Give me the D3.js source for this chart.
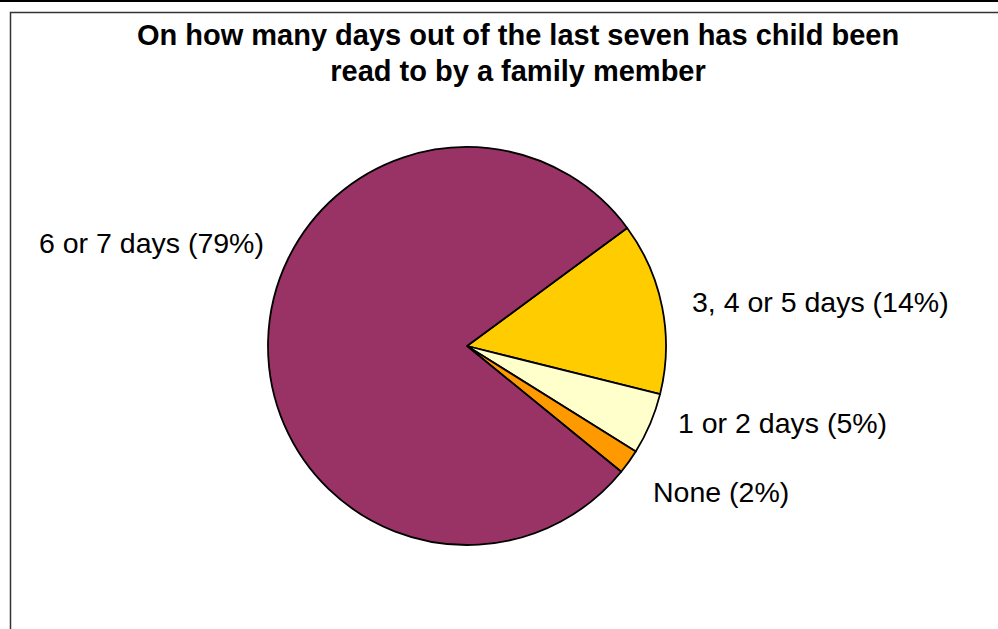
<!DOCTYPE html>
<html>
<head>
<meta charset="utf-8">
<script src="https://cdn.jsdelivr.net/npm/d3@7"></script>
<style>
  body { margin: 0; background: #fff; }
  svg { display: block; font-family: "Liberation Sans", Arial, sans-serif; }
</style>
</head>
<body>
<div class="chart"></div>
<script>
var width = 998,
  height = 629;

// data, clockwise from the first slice
var categories = ['3, 4 or 5 days', '1 or 2 days', 'None', '6 or 7 days'];
var values = [14, 5, 2, 79];
var colors = ['#FFCC00', '#FFFFCC', '#FF9900', '#993366'];
var titleLines = ['On how many days out of the last seven has child been', 'read to by a family member'];

// label anchor points (text layout only)
var labelPos = [[692, 312], [678, 433], [653, 502], [39, 253]];

var cx = 467, cy = 346, radius = 199;
var startDeg = 53.6;

var svg = d3.select('.chart')
  .append('svg')
  .attr('width', width)
  .attr('height', height);

// frame
svg.append('rect')
  .attr('x', 0).attr('y', 0)
  .attr('width', width).attr('height', 2)
  .attr('fill', '#000');

svg.append('path')
  .attr('d', 'M10.5,' + (height + 10) + 'V12.5H' + (width + 10))
  .attr('fill', 'none')
  .attr('stroke', '#333')
  .attr('stroke-width', 1.5);

// title
svg.selectAll('.title')
  .data(titleLines)
  .enter()
  .append('text')
  .attr('class', 'title')
  .attr('x', 518)
  .attr('y', function(d, i) { return 45 + i * 36; })
  .attr('text-anchor', 'middle')
  .style('font-weight', 'bold')
  .style('font-size', '29px')
  .attr('fill', '#000')
  .text(function(d) { return d; });

// pie
var pie = d3.pie()
  .sort(null)
  .startAngle(startDeg * Math.PI / 180)
  .endAngle(startDeg * Math.PI / 180 + 2 * Math.PI)
  .value(function(d) { return d; });

var arc = d3.arc()
  .innerRadius(0)
  .outerRadius(radius);

var g = svg.append('g')
  .attr('transform', 'translate(' + cx + ',' + cy + ')');

g.selectAll('.slice')
  .data(pie(values))
  .enter()
  .append('path')
  .attr('class', 'slice')
  .attr('d', arc)
  .attr('fill', function(d, i) { return colors[i]; })
  .attr('stroke', '#000')
  .attr('stroke-width', 1.8)
  .attr('stroke-linejoin', 'round');

// labels
svg.selectAll('.label')
  .data(categories)
  .enter()
  .append('text')
  .attr('class', 'label')
  .attr('x', function(d, i) { return labelPos[i][0]; })
  .attr('y', function(d, i) { return labelPos[i][1]; })
  .style('font-size', '28.5px')
  .attr('fill', '#000')
  .text(function(d, i) { return d + ' (' + values[i] + '%)'; });
</script>
</body>
</html>
